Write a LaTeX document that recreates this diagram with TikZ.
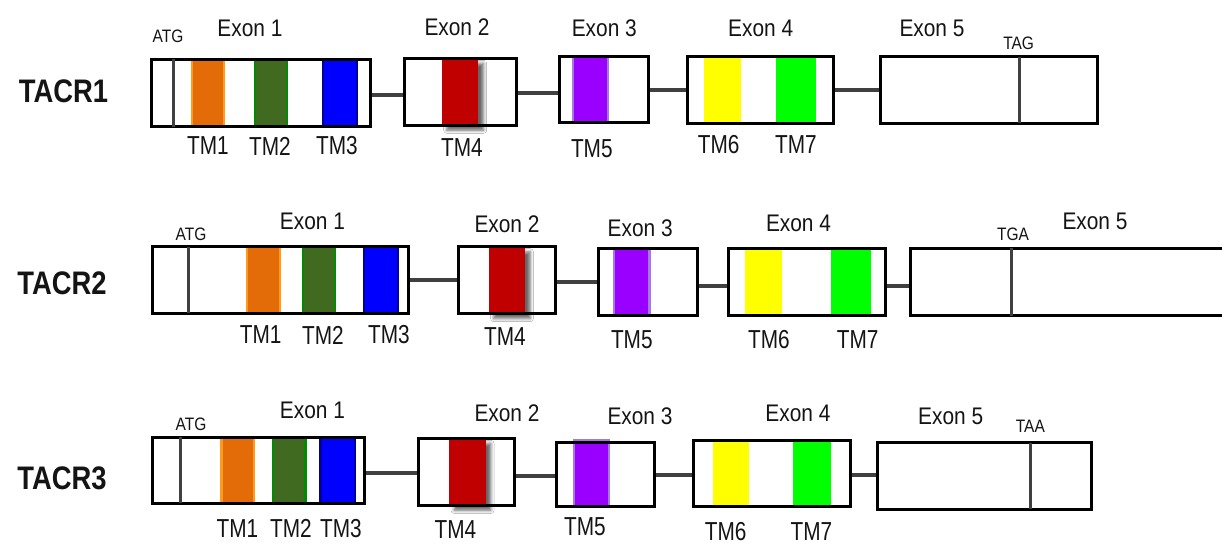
\documentclass[tikz,border=0pt]{standalone}
\usepackage{fontspec}
\setmainfont{Liberation Sans}
\newfontfamily\exonfont[FakeStretch=0.87]{Liberation Sans}
\newfontfamily\tmfont[FakeStretch=0.80]{Liberation Sans}
\newfontfamily\genefont[FakeStretch=0.84]{Liberation Sans}
\newfontfamily\codonfont[FakeStretch=0.86]{Liberation Sans}
\usetikzlibrary{fit,shadows.blur}

\definecolor{tmorange}{HTML}{E36C09}
\definecolor{tmorangeedge}{HTML}{FF9A1A}
\definecolor{tmolive}{HTML}{3F6A1F}
\definecolor{tmoliveedge}{HTML}{008A00}
\definecolor{tmblue}{HTML}{0000FF}
\definecolor{tmblueedge}{HTML}{00009A}
\definecolor{tmred}{HTML}{C00000}
\definecolor{tmpurple}{HTML}{9900FF}
\definecolor{tmpurpleedge}{HTML}{A778E0}
\definecolor{tmyellow}{HTML}{FFFF00}
\definecolor{tmgreen}{HTML}{00FF00}
\definecolor{introncol}{HTML}{404040}
\definecolor{textcol}{HTML}{141414}

\tikzset{
  exon/.style={draw=black, line width=1.5pt, inner sep=0pt},
  tm/.style={inner sep=0pt, line width=1.1pt},
  tmone/.style={tm, fill=tmorange, draw=tmorangeedge},
  tmtwo/.style={tm, fill=tmolive, draw=tmoliveedge},
  tmthree/.style={tm, fill=tmblue, draw=tmblueedge},
  tmfour/.style={tm, fill=tmred, blur shadow={shadow xshift=2.6pt, shadow yshift=-2.6pt, shadow opacity=60, shadow blur radius=1.6pt}},
  tmfive/.style={tm, fill=tmpurple, draw=tmpurpleedge},
  tmsix/.style={tm, fill=tmyellow},
  tmseven/.style={tm, fill=tmgreen},
  intron/.style={draw=introncol, line width=2pt},
  codon/.style={draw=introncol, line width=1.5pt},
  exonlabel/.style={text=textcol, font=\exonfont\fontsize{12}{14}\selectfont, inner sep=0pt},
  tmlabel/.style={text=textcol, font=\tmfont\fontsize{13}{15}\selectfont, inner sep=0pt},
  genelabel/.style={text=textcol, font=\genefont\bfseries\fontsize{16.3}{18}\selectfont, inner sep=0pt},
  codonlabel/.style={text=textcol, font=\codonfont\fontsize{9}{11}\selectfont, inner sep=0pt},
}

\begin{document}
\begin{tikzpicture}[x=0.5pt, y=-0.5pt]
\useasboundingbox[fill=white] (0,0) rectangle (1222,543);
\clip (0,0) rectangle (1222,543);

% ---------------- TACR1 ----------------
\node[genelabel] (g1) at (63.5,91) {TACR1};

\node[tmone,   fit={(191.7,59.3) (224.3,126.7)}] (a1) {};
\node[tmtwo,   fit={(255,59.3) (286.7,126.7)}] (a2) {};
\node[tmthree, fit={(323.3,59.3) (357.3,126.7)}] (a3) {};
\node[tmfour,  fit={(441.7,58.3) (478.3,125)}] (a4) {};
\node[tmfive,  fit={(572.9,56.7) (607.9,122.7)}] (a5) {};
\node[tmsix,   fit={(703.6,56) (740.7,123.3)}] (a6) {};
\node[tmseven, fit={(776.4,56) (815.7,123.3)}] (a7) {};

\node[exon, fit={(151.7,59.3) (370,126.7)}] (r1e1) {};
\node[exon, fit={(404.3,58.3) (516.7,125)}] (r1e2) {};
\node[exon, fit={(559.6,56.7) (648.9,122.7)}] (r1e3) {};
\node[exon, fit={(687.5,56) (833.6,123.3)}] (r1e4) {};
\node[exon, fit={(880.4,56.7) (1097.1,123.3)}] (r1e5) {};

\draw[codon] (173.3,59.3) -- (173.3,126.7);
\draw[codon] (1019.3,56.7) -- (1019.3,123.3);

\draw[intron] (r1e1.east |- 0,95) -- (r1e2.west |- 0,95);
\draw[intron] (r1e2.east |- 0,93.3) -- (r1e3.west |- 0,93.3);
\draw[intron] (r1e3.east |- 0,90) -- (r1e4.west |- 0,90);
\draw[intron] (r1e4.east |- 0,90) -- (r1e5.west |- 0,90);

\node[codonlabel] (c1a) at (168,36) {ATG};
\node[codonlabel] (c1b) at (1018.6,43.3) {TAG};
\node[exonlabel] (x11) at (250,28) {Exon 1};
\node[exonlabel] (x12) at (457,27) {Exon 2};
\node[exonlabel] (x13) at (604.3,28.3) {Exon 3};
\node[exonlabel] (x14) at (760.7,28) {Exon 4};
\node[exonlabel] (x15) at (932,28) {Exon 5};
\node[tmlabel] (t11) at (208,146) {TM1};
\node[tmlabel] (t12) at (270,146) {TM2};
\node[tmlabel] (t13) at (337,146) {TM3};
\node[tmlabel] (t14) at (462,148) {TM4};
\node[tmlabel] (t15) at (591.8,148.3) {TM5};
\node[tmlabel] (t16) at (718.6,145) {TM6};
\node[tmlabel] (t17) at (796,145) {TM7};

% ---------------- TACR2 ----------------
\node[genelabel] (g2) at (62,283.3) {TACR2};

\node[tmone,   fit={(247.1,246.7) (279.6,313.3)}] (b1) {};
\node[tmtwo,   fit={(303.2,246.7) (334.6,313.3)}] (b2) {};
\node[tmthree, fit={(364.3,246.7) (398.2,313.3)}] (b3) {};
\node[tmfour,  fit={(488.6,246.7) (525,313.3)}] (b4) {};
\node[tmfive,  fit={(614,248.3) (649.5,315.7)}] (b5) {};
\node[tmsix,   fit={(744.5,248.3) (781.6,315.7)}] (b6) {};
\node[tmseven, fit={(831,248.3) (871.1,315.7)}] (b7) {};

\node[exon, fit={(152.9,246.7) (408.2,313.3)}] (r2e1) {};
\node[exon, fit={(458.2,246.7) (555.4,313.3)}] (r2e2) {};
\node[exon, fit={(598,248.3) (697.2,315.7)}] (r2e3) {};
\node[exon, fit={(728.9,248.3) (885,315.7)}] (r2e4) {};
\node[exon, fit={(910.4,248.3) (1240,315.7)}] (r2e5) {};

\draw[codon] (188.6,246.7) -- (188.6,313.3);
\draw[codon] (1011.7,248.3) -- (1011.7,315.7);

\draw[intron] (r2e1.east |- 0,280) -- (r2e2.west |- 0,280);
\draw[intron] (r2e2.east |- 0,281.7) -- (r2e3.west |- 0,281.7);
\draw[intron] (r2e3.east |- 0,286) -- (r2e4.west |- 0,286);
\draw[intron] (r2e4.east |- 0,286) -- (r2e5.west |- 0,286);

\node[codonlabel] (c2a) at (191,234) {ATG};
\node[codonlabel] (c2b) at (1013,234) {TGA};
\node[exonlabel] (x21) at (312.5,221.7) {Exon 1};
\node[exonlabel] (x22) at (507,224) {Exon 2};
\node[exonlabel] (x23) at (640.2,228.3) {Exon 3};
\node[exonlabel] (x24) at (798.5,223.3) {Exon 4};
\node[exonlabel] (x25) at (1095,221.7) {Exon 5};
\node[tmlabel] (t21) at (260.7,335) {TM1};
\node[tmlabel] (t22) at (323,335) {TM2};
\node[tmlabel] (t23) at (389,335) {TM3};
\node[tmlabel] (t24) at (505,336.7) {TM4};
\node[tmlabel] (t25) at (631.8,340) {TM5};
\node[tmlabel] (t26) at (769,340) {TM6};
\node[tmlabel] (t27) at (857.6,340) {TM7};

% ---------------- TACR3 ----------------
\node[genelabel] (g3) at (62,478.3) {TACR3};

\node[tmone,   fit={(221.4,437.3) (254.3,503.3)}] (d1) {};
\node[tmtwo,   fit={(273.2,437.3) (305.4,503.3)}] (d2) {};
\node[tmthree, fit={(320.4,437.3) (354.6,503.3)}] (d3) {};
\node[tmfour,  fit={(449,438.3) (485.7,505)}] (d4) {};
\node[tmfive,  fit={(574.3,440) (609.3,506.7)}] (d5) {};
\node[tmsix,   fit={(712.5,440.7) (749,506.7)}] (d6) {};
\node[tmseven, fit={(792.9,440.7) (831,506.7)}] (d7) {};

\node[exon, fit={(152.9,437.3) (364.3,503.3)}] (r3e1) {};
\node[exon, fit={(418.6,438.3) (514.3,505)}] (r3e2) {};
\node[exon, fit={(556.7,442.7) (654.3,506.7)}] (r3e3) {};
\node[exon, fit={(693.6,440.7) (850,506.7)}] (r3e4) {};
\node[exon, fit={(877.5,442.7) (1091.8,509.3)}] (r3e5) {};

\draw[codon] (180.4,437.3) -- (180.4,503.3);
\draw[codon] (1030.4,442.7) -- (1030.4,509.3);

\draw[intron] (r3e1.east |- 0,473.3) -- (r3e2.west |- 0,473.3);
\draw[intron] (r3e2.east |- 0,476) -- (r3e3.west |- 0,476);
\draw[intron] (r3e3.east |- 0,475) -- (r3e4.west |- 0,475);
\draw[intron] (r3e4.east |- 0,475) -- (r3e5.west |- 0,475);

\node[codonlabel] (c3a) at (191,424.3) {ATG};
\node[codonlabel] (c3b) at (1030.4,426.7) {TAA};
\node[exonlabel] (x31) at (312.5,410) {Exon 1};
\node[exonlabel] (x32) at (507,413.3) {Exon 2};
\node[exonlabel] (x33) at (640,416.7) {Exon 3};
\node[exonlabel] (x34) at (797.9,413.3) {Exon 4};
\node[exonlabel] (x35) at (950.7,416.7) {Exon 5};
\node[tmlabel] (t31) at (237.5,528.3) {TM1};
\node[tmlabel] (t32) at (291,528.3) {TM2};
\node[tmlabel] (t33) at (341,528.3) {TM3};
\node[tmlabel] (t34) at (455.4,530) {TM4};
\node[tmlabel] (t35) at (585,527) {TM5};
\node[tmlabel] (t36) at (725.7,531.5) {TM6};
\node[tmlabel] (t37) at (811.4,531.5) {TM7};
\end{tikzpicture}
\end{document}
